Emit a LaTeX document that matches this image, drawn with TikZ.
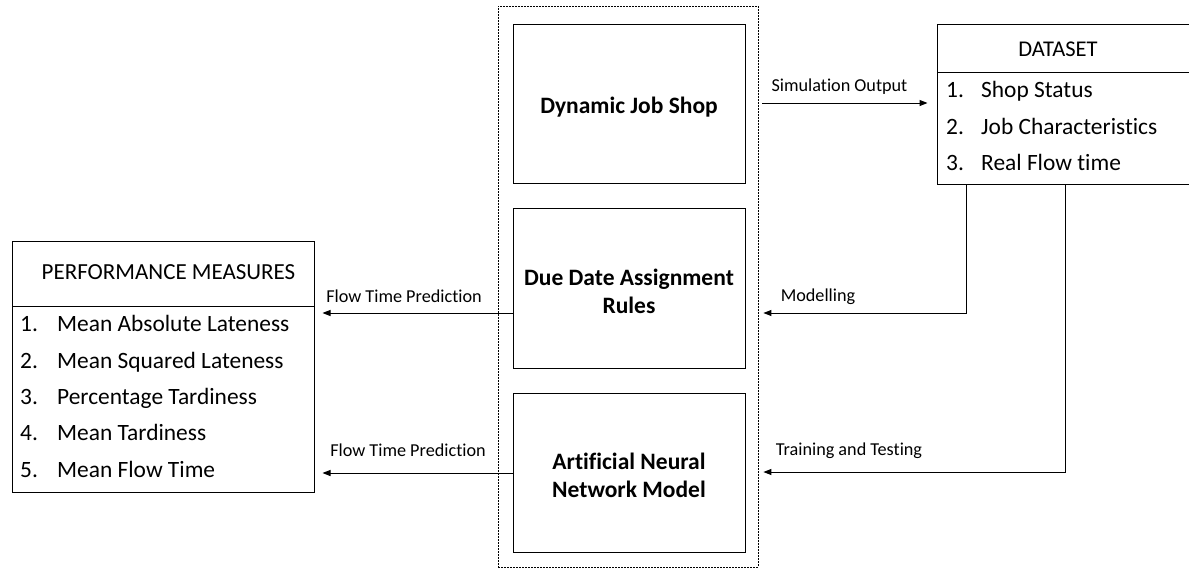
\documentclass[tikz,border=0pt]{standalone}
\usepackage{fontspec}
\setmainfont[Ligatures=NoCommon]{Carlito}
\usetikzlibrary{arrows.meta}
\begin{document}
\begin{tikzpicture}[x=1pt,y=-1pt,
  box/.style={draw=black,line width=1pt,rectangle,inner sep=0pt},
  bigtxt/.style={font=\fontsize{23.5}{28.5}\selectfont\bfseries,align=center,inner sep=0pt},
  item/.style={font=\fontsize{23.4}{28}\selectfont,anchor=mid west,inner sep=0pt},
  ttl/.style={font=\fontsize{23}{28}\selectfont,anchor=mid,inner sep=0pt},
  lbl/.style={font=\fontsize{18.2}{22}\selectfont,anchor=mid,inner sep=0pt},
  arr/.style={draw=black,line width=1pt,-{Triangle[length=8pt,width=6pt]}},
  conn/.style={draw=black,line width=1pt}]
\useasboundingbox (0,0) rectangle (1189,570);
% outer dashed container
\node[draw=black,line width=0.8pt,dash pattern=on 2pt off 1pt,minimum width=260pt,minimum height=561pt,inner sep=0pt] (outer) at (628,286.5) {};
% inner boxes
\node[box,minimum width=232pt,minimum height=159pt] (djs) at (629,103.5) {};
\node[bigtxt] (djst) at (629,107) {Dynamic Job Shop};
\node[box,minimum width=232pt,minimum height=160pt] (ddar) at (629,288) {};
\node[bigtxt] (ddart) at (629,291.5) {Due Date Assignment\\Rules};
\node[box,minimum width=232pt,minimum height=159pt] (ann) at (629,472.5) {};
\node[bigtxt] (annt) at (629,475.5) {Artificial Neural\\Network Model};
% performance measures box
\node[box,minimum width=302pt,minimum height=251pt] (perf) at (163,366.5) {};
\draw[conn] (12,306) coordinate (pdl) -- (314,306) coordinate (pdr);
\node[ttl] (ptitle) at (168.5,277) {PERFORMANCE MEASURES};
\node[item] (pn1) at (20,329) {1.};
\node[item] (pt1) at (57,329) {Mean Absolute Lateness};
\node[item] (pn2) at (20,366) {2.};
\node[item] (pt2) at (57,366) {Mean Squared Lateness};
\node[item] (pn3) at (20,402) {3.};
\node[item] (pt3) at (57,402) {Percentage Tardiness};
\node[item] (pn4) at (20,438) {4.};
\node[item] (pt4) at (57,438) {Mean Tardiness};
\node[item] (pn5) at (20,475) {5.};
\node[item] (pt5) at (57,475) {Mean Flow Time};
% dataset box (right edge beyond the page)
\node[box,minimum width=258pt,minimum height=160pt] (ds) at (1066,104) {};
\draw[conn] (937,72) coordinate (ddl) -- (1195,72) coordinate (ddr);
\node[ttl,font=\fontsize{22.5}{28}\selectfont] (dtitle) at (1058,54) {DATASET};
\node[item] (dn1) at (946,95) {1.};
\node[item] (dt1) at (981,95) {Shop Status};
\node[item] (dn2) at (946,132) {2.};
\node[item] (dt2) at (981,132) {Job Characteristics};
\node[item] (dn3) at (946,168) {3.};
\node[item] (dt3) at (981,168) {Real Flow time};
% connectors
\coordinate (sim) at (762,103);
\draw[arr,shorten >=9pt] (sim) -- (ds.west |- sim);
\node[lbl] (simlbl) at (839.5,89) {Simulation Output};
\coordinate (mc) at (966,313);
\draw[arr,shorten >=5pt] (ds.south -| mc) -- (mc) -- (outer.east |- mc);
\node[lbl] (modlbl) at (818,299) {Modelling};
\coordinate (tc) at (1065,472);
\draw[arr,shorten >=5pt] (ds.south -| tc) -- (tc) -- (outer.east |- tc);
\node[lbl] (trlbl) at (849,453) {Training and Testing};
\coordinate (f1) at (400,313);
\draw[arr,shorten >=8pt] (ddar.west |- f1) -- (perf.east |- f1);
\node[lbl] (f1lbl) at (404,300) {Flow Time Prediction};
\coordinate (f2) at (400,473);
\draw[arr,shorten >=8pt] (ann.west |- f2) -- (perf.east |- f2);
\node[lbl] (f2lbl) at (408,454) {Flow Time Prediction};
\end{tikzpicture}
\end{document}
